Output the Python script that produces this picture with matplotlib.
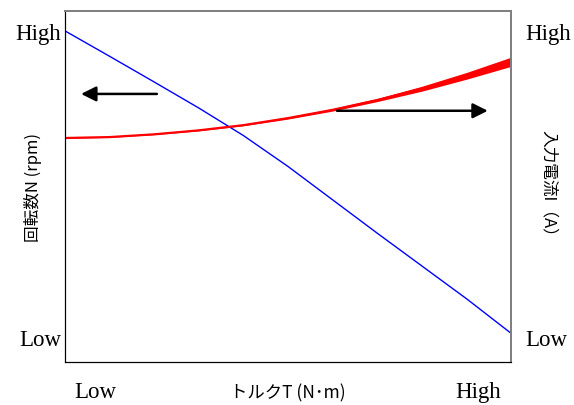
import numpy as np
import matplotlib
matplotlib.use("Agg")
import matplotlib.pyplot as plt

plt.rcParams['font.family'] = ['Noto Sans CJK JP', 'DejaVu Sans']

# 回転数 (blue), normalised 0=Low, 1=High
torque_n = [0.0, 0.1, 0.2, 0.3, 0.4, 0.5, 0.6, 0.7, 0.8, 0.9, 1.0]
speed = [1.0, 0.917, 0.833, 0.748, 0.658, 0.557, 0.448, 0.339, 0.232, 0.125, 0.012]

# 入力電流 (red)
torque_i = [0.0, 0.1, 0.2, 0.3, 0.4, 0.5, 0.6, 0.7, 0.8, 0.9, 1.0]
current = [0.650, 0.653, 0.662, 0.675, 0.692, 0.715, 0.742, 0.774, 0.811, 0.853, 0.899]
# noise half-width of the current trace
current_spread = [0.001, 0.001, 0.001, 0.0015, 0.002, 0.003, 0.004, 0.005, 0.008, 0.011, 0.015]

xtick_pos = [0.067, 0.926]
xtick_lab = ['Low', 'High']
ytick_lab = ['Low', 'High']

fig = plt.figure(figsize=(5.74, 4.06), dpi=100)
ax = fig.add_axes([65 / 574, 1 - 363 / 406, 446 / 574, 351 / 406])

ax.plot(torque_n, speed, color='#0000ff', lw=1.0)

ci = np.array(current)
cs = np.array(current_spread)
ax.fill_between(torque_i, ci - cs, ci + cs, color='#ff0000', lw=0)
ax.plot(torque_i, current, color='#ff0000', lw=1.6)

ax.set_xlim(0, 1)
ax.set_ylim(-0.082, 1.065)

ax.annotate('', xy=(0.036, 0.794), xytext=(0.206, 0.794),
            arrowprops=dict(arrowstyle='-|>,head_length=0.9,head_width=0.45',
                            color='black', lw=1.8, shrinkA=0, shrinkB=0))
ax.annotate('', xy=(0.948, 0.739), xytext=(0.610, 0.739),
            arrowprops=dict(arrowstyle='-|>,head_length=0.9,head_width=0.45',
                            color='black', lw=1.8, shrinkA=0, shrinkB=0))

serif = 'Liberation Serif'
fs = 16.5
ax.set_xticks(xtick_pos)
ax.set_xticklabels(xtick_lab, fontfamily=serif, fontsize=fs)
ax.set_yticks([0, 1])
ax.set_yticklabels(ytick_lab, fontfamily=serif, fontsize=fs)
ax.tick_params(axis='x', length=0, pad=14)
ax.tick_params(axis='y', length=0, pad=3)

ax2 = ax.twinx()
ax2.set_ylim(ax.get_ylim())
ax2.set_yticks([0, 1])
ax2.set_yticklabels(ytick_lab, fontfamily=serif, fontsize=fs)
ax2.tick_params(axis='y', length=0, pad=10)

ax.set_xlabel('トルクT (N･m)', fontsize=12.5)
ax.xaxis.set_label_coords(0.5, -0.062)
ax.set_ylabel('回転数N (rpm)', fontsize=12)
ax.yaxis.set_label_coords(-0.052, 0.5)
ax2.set_ylabel('入力電流I（A）', fontsize=12, rotation=270, va='bottom')
ax2.yaxis.set_label_coords(1.065, 0.5)

for a in (ax, ax2):
    a.spines['left'].set_color('black')
    a.spines['bottom'].set_color('black')
    a.spines['top'].set_color('#808080')
    a.spines['right'].set_color('#808080')
    a.spines['top'].set_linewidth(1.4)
    a.spines['right'].set_linewidth(1.4)

fig.savefig('out.png', dpi=100)
